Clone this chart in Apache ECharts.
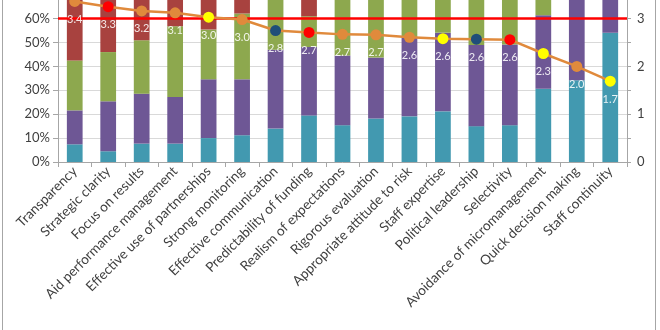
<!DOCTYPE html>
<html><head><meta charset="utf-8">
<script src="https://cdn.jsdelivr.net/npm/echarts@6/dist/echarts.min.js"></script>
<style>html,body{margin:0;padding:0;background:#fff;overflow:hidden}
#wrap{position:relative;width:660px;height:330px}
#c{width:660px;height:330px}
#frame{position:absolute;left:2px;top:-6px;width:652px;height:345px;border:1px solid #a6a6a6;pointer-events:none}
</style></head>
<body><div id="wrap"><div id="c"></div><div id="frame"></div></div>
<script>
const categories = ["Transparency","Strategic clarity","Focus on results","Aid performance management","Effective use of partnerships","Strong monitoring","Effective communication","Predictability of funding","Realism of expectations","Rigorous evaluation","Appropriate attitude to risk","Staff expertise","Political leadership","Selectivity","Avoidance of micromanagement","Quick decision making","Staff continuity"];
// stacked shares (%)
const seg1 = [7.4, 4.5, 7.7, 7.7, 10.0, 11.2, 14.0, 19.5, 15.4, 18.2, 19.1, 21.2, 15.0, 15.4, 30.7, 34.2, 54.1];
const seg2 = [14.2, 20.9, 20.9, 19.5, 24.6, 23.4, 33.0, 28.6, 29.2, 25.5, 32.9, 32.9, 34.0, 33.8, 30.7, 50.8, 30.9];
const seg3 = [20.9, 20.6, 22.3, 29.6, 20.8, 27.5, 33.0, 12.9, 35.4, 36.3, 28.0, 25.9, 31.0, 30.8, 18.6, 10.0, 10.0];
const seg4 = [57.5, 54.0, 49.1, 43.2, 44.6, 37.9, 20.0, 39.0, 20.0, 20.0, 20.0, 20.0, 20.0, 20.0, 20.0, 5.0, 5.0];
// average score (right axis)
const scores = [3.36, 3.25, 3.16, 3.12, 3.03, 2.98, 2.75, 2.71, 2.67, 2.66, 2.61, 2.58, 2.57, 2.56, 2.27, 2.0, 1.69];
const markerGroup = ["o","r","o","o","y","o","b","r","o","o","o","y","b","r","y","o","y"];
const threshold = 60;

const groupColor = {o:"#E08A3C", r:"#FF0000", y:"#FFFF00", b:"#1F4E79"};
const segColors = ["#4299B0","#6E5795","#8DA84E","#A8423F"];
const font = "Lato";

const chart = echarts.init(document.getElementById('c'), null, {renderer:'canvas'});
function barSeries(name, data, color, extra){
  return Object.assign({type:'bar', name, data, stack:'s', barWidth:'47%', itemStyle:{color}, yAxisIndex:0, z:2}, extra||{});
}
const option = {
  animation:false,
  textStyle:{fontFamily:font},
  grid:{left:58, right:33, top:-77, bottom:168, outerBoundsMode:'none', containLabel:false},
  xAxis:{type:'category', data:categories,
    axisLine:{lineStyle:{color:'#a6a6a6', width:1}},
    axisTick:{show:true, alignWithLabel:false, length:5, lineStyle:{color:'#a6a6a6'}},
    axisLabel:{interval:0, rotate:45, fontSize:13.6, color:'#404040', margin:7, fontFamily:font}},
  yAxis:[
    {type:'value', min:0, max:100, interval:10,
     axisLine:{show:true, lineStyle:{color:'#a6a6a6'}},
     axisTick:{show:true, length:5, lineStyle:{color:'#a6a6a6'}},
     axisLabel:{formatter:'{value}%', fontSize:13, color:'#404040', margin:8, fontFamily:font},
     splitLine:{show:true, lineStyle:{color:'#d9d9d9', width:1}}},
    {type:'value', min:0, max:5, interval:0.5, position:'right',
     axisLine:{show:true, lineStyle:{color:'#a6a6a6'}},
     axisTick:{show:true, length:4, lineStyle:{color:'#a6a6a6'}},
     axisLabel:{formatter:v=> (Math.abs(v-Math.round(v))<1e-9 ? String(Math.round(v)) : ''), fontSize:13, color:'#404040', margin:10, fontFamily:font},
     splitLine:{show:false}}
  ],
  series:[
    barSeries('s1', seg1, segColors[0]),
    barSeries('s2', seg2, segColors[1]),
    barSeries('s3', seg3, segColors[2]),
    barSeries('s4', seg4, segColors[3], {markLine:{silent:true, symbol:['none','none'], label:{show:false},
      lineStyle:{color:'#FF0000', width:2.5, type:'solid'}, data:[{yAxis:threshold}], z:5}}),
    {type:'line', name:'score', yAxisIndex:1, z:10,
     data: scores.map((v,i)=>({value:v, itemStyle:{color:groupColor[markerGroup[i]], borderWidth:0}})),
     symbol:'circle', symbolSize:11,
     lineStyle:{color:'#E08A3C', width:2.5},
     itemStyle:{color:'#E08A3C'},
     label:{show:true, position:'bottom', distance:7, formatter:p=>p.value.toFixed(1),
       color:'rgba(255,255,255,0.88)', fontSize:11, fontFamily:font}}
  ]
};
chart.setOption(option);
</script></body></html>
